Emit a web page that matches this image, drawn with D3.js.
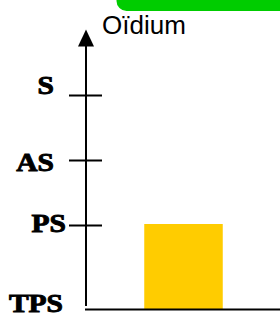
<!DOCTYPE html>
<html><head><meta charset="utf-8">
<script src="https://cdn.jsdelivr.net/npm/d3@7"></script>
<style>html,body{margin:0;padding:0;background:#fff;overflow:hidden}</style>
</head><body>
<script>
// Data
const levels = ["TPS", "PS", "AS", "S"];        // ordinal severity levels (bottom→top)
const tickLevels = ["PS", "AS", "S"];           // levels that carry a tick mark
const categories = ["Oïdium"];                  // chart title / disease
const values = ["PS"];                          // bar value per category

const W = 280, H = 314;
const axisX = 86, baseY = 309.5;
const svg = d3.select("body").append("svg").attr("width", W).attr("height", H);

// green header tab
svg.append("rect").attr("x", 116.5).attr("y", -20).attr("width", 200).attr("height", 31)
  .attr("rx", 10).attr("fill", "#00cc00");

// title
svg.append("text").attr("x", 102).attr("y", 34)
  .attr("font-family", "Liberation Sans, Arial, sans-serif").attr("font-size", 26)
  .attr("fill", "#000").text(categories[0]);

const y = d3.scaleLinear().domain([0, levels.length - 1]).range([290, 95]);
const x = d3.scaleBand().domain(categories).range([106, 261]).padding(0.2);
const barW = 78.5;

// bar
svg.selectAll(".bar").data(values).join("rect")
  .attr("x", (d, i) => x(categories[i]) + x.bandwidth() / 2 - barW / 2)
  .attr("width", barW)
  .attr("y", d => y(levels.indexOf(d)) - 1)
  .attr("height", d => baseY - y(levels.indexOf(d)) + 1)
  .attr("fill", "#ffcc00");

// baseline
svg.append("line").attr("x1", axisX - 1).attr("x2", W).attr("y1", baseY).attr("y2", baseY)
  .attr("stroke", "#000").attr("stroke-width", 2);

// vertical axis with ticks
const axis = d3.axisLeft(y).tickValues(tickLevels.map(l => levels.indexOf(l)))
  .tickFormat(v => levels[v]).tickSize(0);
const g = svg.append("g").attr("transform", `translate(${axisX},0)`).call(axis);
g.select(".domain").remove();
g.selectAll(".tick line").attr("x1", -17).attr("x2", 16).attr("stroke", "#000").attr("stroke-width", 2);
g.append("line").attr("x1", 0).attr("x2", 0).attr("y1", 44).attr("y2", 306)
  .attr("stroke", "#000").attr("stroke-width", 2);
g.append("path").attr("d", "M0,29.5 L8,46.5 L-8,46.5 Z").attr("fill", "#000");

const labelOffset = {S: [-32, -2], AS: [-32, 10], PS: [-20, 6], TPS: [-23, 2]};
function styleLabel(sel) {
  sel.attr("font-family", "Liberation Serif, Times New Roman, serif")
    .attr("font-weight", "bold").attr("font-size", 25).attr("fill", "#000")
    .attr("stroke", "#000").attr("stroke-width", 0.9)
    .attr("text-anchor", "end");
}
g.selectAll(".tick text").each(function(v) {
  const l = levels[v], o = labelOffset[l];
  d3.select(this).attr("x", null).attr("dy", null).attr("y", null)
    .attr("transform", `translate(${o[0]},${o[1]}) scale(1.18,1)`).call(styleLabel);
});
// TPS label at the baseline
g.append("text").attr("transform", `translate(${labelOffset.TPS[0]},${baseY + labelOffset.TPS[1]}) scale(1.18,1)`)
  .call(styleLabel).text(levels[0]);
</script>
</body></html>
